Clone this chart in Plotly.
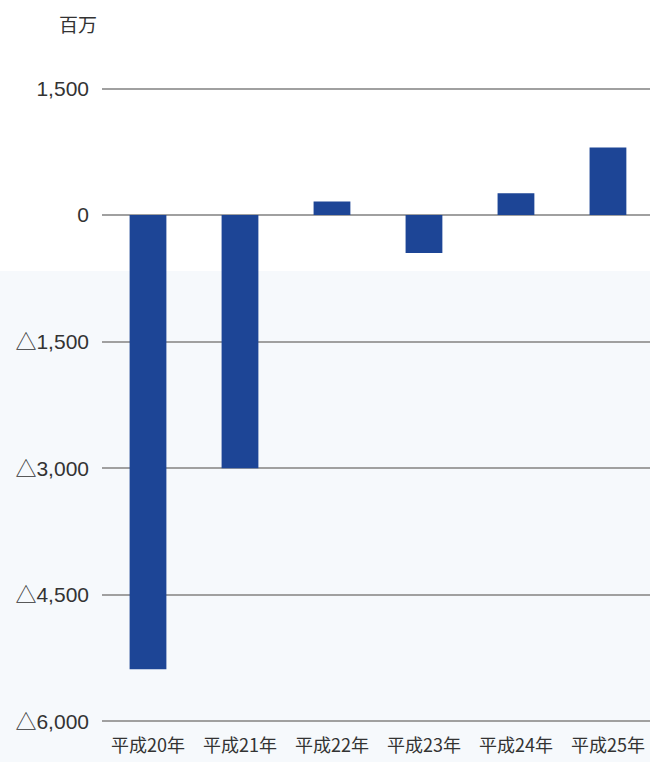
import plotly.graph_objects as go

categories = ["平成20年", "平成21年", "平成22年", "平成23年", "平成24年", "平成25年"]
values = [-5380, -3000, 160, -450, 260, 800]
tick_vals = [1500, 0, -1500, -3000, -4500, -6000]
tick_text = ["1,500", "0", "△1,500", "△3,000", "△4,500", "△6,000"]

fig = go.Figure()
fig.add_trace(go.Bar(
    x=categories, y=values,
    marker=dict(color="#1d4596", line=dict(width=0)),
    width=0.4,
))

# faint scan tint in the lower part of the page
fig.add_shape(type="rect", xref="paper", yref="paper", x0=-0.3, x1=1.05, y0=-0.1, y1=0.71,
              fillcolor="#f6f9fc", line=dict(width=0), layer="below")

fig.update_layout(
    width=650, height=762,
    margin=dict(l=102, r=0, t=86, b=38),
    paper_bgcolor="white",
    plot_bgcolor="rgba(0,0,0,0)",
    showlegend=False,
    font=dict(family="Liberation Sans, Noto Sans CJK JP", color="#333333"),
    xaxis=dict(
        type="category",
        range=[-0.5, 5.457],
        showgrid=False, showline=False, zeroline=False,
        ticks="",
        tickfont=dict(size=18, family="Noto Sans CJK JP", color="#333333"),
        ticklabelstandoff=9,
    ),
    yaxis=dict(
        range=[-6030, 1530],
        tickvals=tick_vals, ticktext=tick_text,
        showgrid=True, gridcolor="#a0a0a0", gridwidth=1.5,
        zeroline=True, zerolinecolor="#a0a0a0", zerolinewidth=1.5,
        showline=False, ticks="",
        tickfont=dict(size=21, family="Liberation Sans, Noto Sans CJK JP", color="#333333"),
        ticklabelstandoff=12,
    ),
    annotations=[dict(
        text="百万", xref="paper", yref="paper", x=-0.044, y=1.0, yshift=63,
        xanchor="center", yanchor="middle", showarrow=False,
        font=dict(size=19, family="Noto Sans CJK JP", color="#333333"),
    )],
)

fig.write_html("out.html")
